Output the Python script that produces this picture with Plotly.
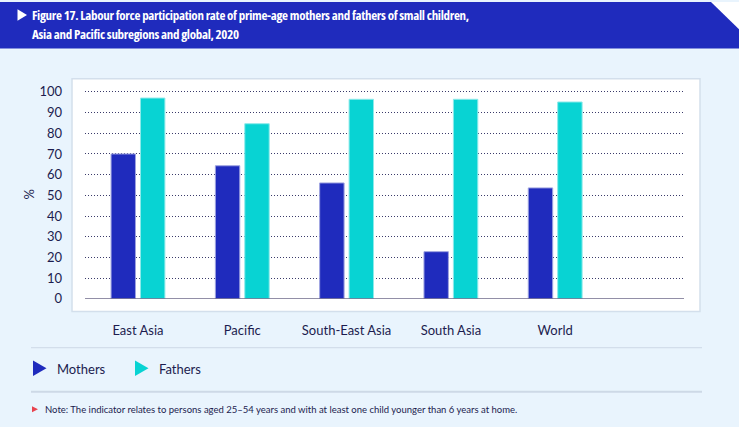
import plotly.graph_objects as go

categories = ["East Asia", "Pacific", "South-East Asia", "South Asia", "World"]
series_names = ["Mothers", "Fathers"]
mothers = [70.0, 64.3, 56.0, 22.8, 53.6]
fathers = [97.0, 84.6, 96.4, 96.4, 95.1]
y_ticks = list(range(0, 101, 10))

title_l1 = "Figure 17. Labour force participation rate of prime-age mothers and fathers of small children,"
title_l2 = "Asia and Pacific subregions and global, 2020"
note = "Note: The indicator relates to persons aged 25\u201354 years and with at least one child younger than 6 years at home."

W, H = 739, 427
BLUE = "#1f2bbd"
CYAN = "#08d3d3"
TXT = "#1c1c4f"
BG = "#e9f4fd"
FONT = "Lato, 'Noto Sans', sans-serif"
TFONT = "'Open Sans', Roboto, sans-serif"
TSTYLE = "font-stretch:condensed;letter-spacing:-0.3px"

def px(x):
    return x / W

def py(y):
    return 1 - y / H

fig = go.Figure()
fig.add_trace(go.Bar(x=categories, y=mothers, name=series_names[0],
                     marker=dict(color=BLUE, line=dict(color="#9ea3e0", width=1))))
fig.add_trace(go.Bar(x=categories, y=fathers, name=series_names[1],
                     marker=dict(color=CYAN, line=dict(color="#8ceaea", width=1))))

shapes = []
# header band
shapes.append(dict(type="rect", xref="paper", yref="paper", x0=0, x1=1, y0=py(47.5), y1=1,
                   fillcolor=BLUE, line=dict(width=0), layer="below"))
shapes.append(dict(type="path", xref="paper", yref="paper",
                   path=f"M {px(711)} {py(0)} L {px(739)} {py(0)} L {px(739)} {py(28)} Z",
                   fillcolor="white", line=dict(width=0), layer="below"))
# header triangle
shapes.append(dict(type="path", xref="paper", yref="paper",
                   path=f"M {px(17.5)} {py(7.3)} L {px(27)} {py(13.3)} L {px(17.5)} {py(19.3)} Z",
                   fillcolor="white", line=dict(width=0), layer="above"))
# white panel
shapes.append(dict(type="rect", xref="paper", yref="paper", x0=px(72), x1=px(700), y0=py(317), y1=py(78.5),
                   fillcolor="white", line=dict(color="#d3dfec", width=1.5), layer="below"))
# zero line
shapes.append(dict(type="line", xref="paper", yref="y", x0=px(85), x1=px(684), y0=0, y1=0,
                   line=dict(color="#6e6a8a", width=1.5), layer="above"))
# separators
shapes.append(dict(type="line", xref="paper", yref="paper", x0=px(31), x1=px(702), y0=py(354), y1=py(354),
                   line=dict(color="#cdd9e6", width=1)))
shapes.append(dict(type="line", xref="paper", yref="paper", x0=px(31), x1=px(702), y0=py(399), y1=py(399),
                   line=dict(color="#cdd9e6", width=2)))
# legend triangles
for x0, c in [(33, BLUE), (135, CYAN)]:
    shapes.append(dict(type="path", xref="paper", yref="paper",
                       path=f"M {px(x0)} {py(367)} L {px(x0+13.5)} {py(375)} L {px(x0)} {py(383)} Z",
                       fillcolor=c, line=dict(width=0)))
# note triangle
shapes.append(dict(type="path", xref="paper", yref="paper",
                   path=f"M {px(32)} {py(414)} L {px(38)} {py(417)} L {px(32)} {py(420)} Z",
                   fillcolor="#e8434f", line=dict(width=0)))

annotations = [
    dict(text=f"<span style='{TSTYLE}'>{title_l1}</span>", x=px(29.5), y=py(13.5), xref="paper", yref="paper",
         xanchor="left", yanchor="middle", showarrow=False,
         font=dict(family=TFONT, size=13, color="white", weight="bold")),
    dict(text=f"<span style='{TSTYLE}'>{title_l2}</span>", x=px(29.5), y=py(32.5), xref="paper", yref="paper",
         xanchor="left", yanchor="middle", showarrow=False,
         font=dict(family=TFONT, size=13, color="white", weight="bold")),
    dict(text="%", x=px(29), y=py(197), xref="paper", yref="paper", textangle=-90,
         xanchor="center", yanchor="middle", showarrow=False, font=dict(family=FONT, size=13, color=TXT)),
    dict(text=series_names[0], x=px(55), y=py(375.5), xref="paper", yref="paper",
         xanchor="left", yanchor="middle", showarrow=False, font=dict(family=FONT, size=13, color=TXT)),
    dict(text=series_names[1], x=px(156.5), y=py(375.5), xref="paper", yref="paper",
         xanchor="left", yanchor="middle", showarrow=False, font=dict(family=FONT, size=13, color=TXT)),
    dict(text=note, x=px(43), y=py(417), xref="paper", yref="paper",
         xanchor="left", yanchor="middle", showarrow=False, font=dict(family=FONT, size=9.5, color=TXT)),
]

fig.update_layout(
    width=W, height=H, margin=dict(l=0, r=0, t=0, b=0),
    paper_bgcolor=BG, plot_bgcolor="rgba(0,0,0,0)",
    showlegend=False, barmode="group", bargap=0.436, bargroupgap=0.17,
    font=dict(family=FONT, size=13, color=TXT),
    shapes=shapes, annotations=annotations,
    xaxis=dict(domain=[px(85), px(684)], range=[-0.508, 5.235], showgrid=False, zeroline=False,
               showline=False, ticks="", ticklabelstandoff=22, tickfont=dict(size=13, color=TXT)),
    yaxis=dict(domain=[py(304), py(85.64)], range=[0, 103], tickvals=y_ticks,
               showgrid=True, gridcolor="#3a3a6a", gridwidth=1, griddash="1px,2px",
               zeroline=False, showline=False, ticks="", ticklabelstandoff=22,
               tickfont=dict(size=13, color=TXT)),
)

fig.write_html("out.html")
